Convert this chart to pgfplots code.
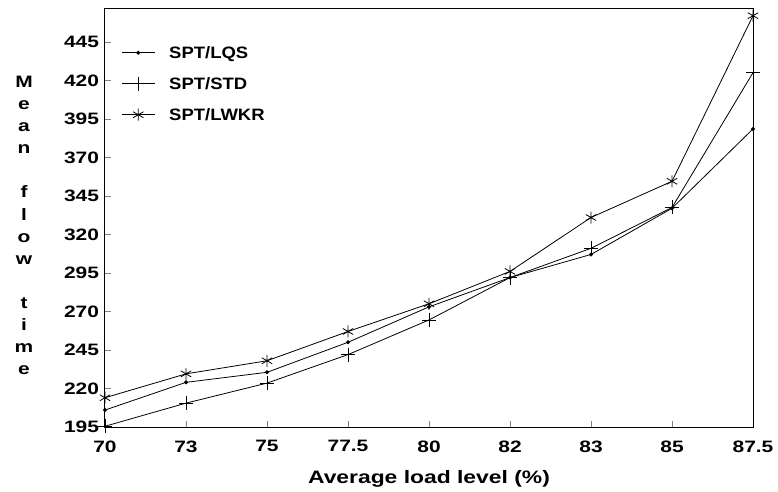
\documentclass[border=0pt]{standalone}
\usepackage{fontspec}
\setmainfont{Liberation Sans}[FakeStretch=1.27]
\newfontfamily\legfont{Liberation Sans}[FakeStretch=1.12]
\usepackage{pgfplots}
\pgfplotsset{compat=1.18}
\begin{document}
\begin{tikzpicture}
\useasboundingbox (-105pt,-64pt) rectangle (673pt,427pt);
\begin{axis}[
  at={(0pt,0pt)}, anchor=south west,
  scale only axis, width=648pt, height=419pt,
  xmin=0, xmax=8, ymin=195, ymax=467,
  xtick={0,1,2,3,4,5,6,7,8},
  xticklabels={70,73,75,77.5,80,82,83,85,87.5},
  ytick={195,220,245,270,295,320,345,370,395,420,445},
  xtick pos=left, ytick pos=left,
  tick align=inside, major tick length=6pt,
  /pgf/number format/assume math mode=true,
  tick label style={font=\fontsize{16.5}{18}\selectfont\bfseries},
  xticklabel style={yshift=-10pt},
  yticklabel style={xshift=-2.5pt},
  xlabel={Average load level (\%)},
  xlabel style={font=\fontsize{18}{20}\selectfont\bfseries,
    at={(axis description cs:0.5,0)}, anchor=north, yshift=-39.5pt},
  ylabel={M\\e\\a\\n\\\mbox{}\\f\\l\\o\\w\\\mbox{}\\t\\i\\m\\e},
  ylabel style={rotate=-90, align=center, font=\fontsize{16.5}{22.1}\selectfont\bfseries,
    at={(axis description cs:-0.125,0.481)}, anchor=center},
  axis line style={line width=1pt},
  every axis plot/.append style={line width=0.8pt, black},
  legend image code/.code={\draw[mark repeat=2,mark phase=2] plot coordinates {(0pt,0pt) (16.5pt,0pt) (33pt,0pt)};},
  legend style={at={(axis description cs:0.025,0.908)}, anchor=north west, draw=none, fill=none,
    font=\legfont\fontsize{16.5}{18}\selectfont\bfseries, row sep=18pt, column sep=14pt,
    inner sep=0pt, nodes={inner sep=0pt, text height=12pt, text depth=0pt}},
  legend cell align=left,
]
\addplot[mark=*, mark size=1.6pt] coordinates {(0,206) (1,224) (2,230.5) (3,250) (4,273) (5,292) (6,307) (7,337) (8,388.5)};
\addlegendentry{SPT/LQS}
\addplot[mark=+, mark size=7pt] coordinates {(0,195.5) (1,210.5) (2,223.5) (3,242) (4,264.5) (5,292) (6,311) (7,337.5) (8,425)};
\addlegendentry{SPT/STD}
\addplot[mark=asterisk, mark size=6pt] coordinates {(0,214) (1,229.5) (2,238) (3,257) (4,275) (5,296) (6,331) (7,354.5) (8,462)};
\addlegendentry{SPT/LWKR}
\end{axis}
\end{tikzpicture}
\end{document}
